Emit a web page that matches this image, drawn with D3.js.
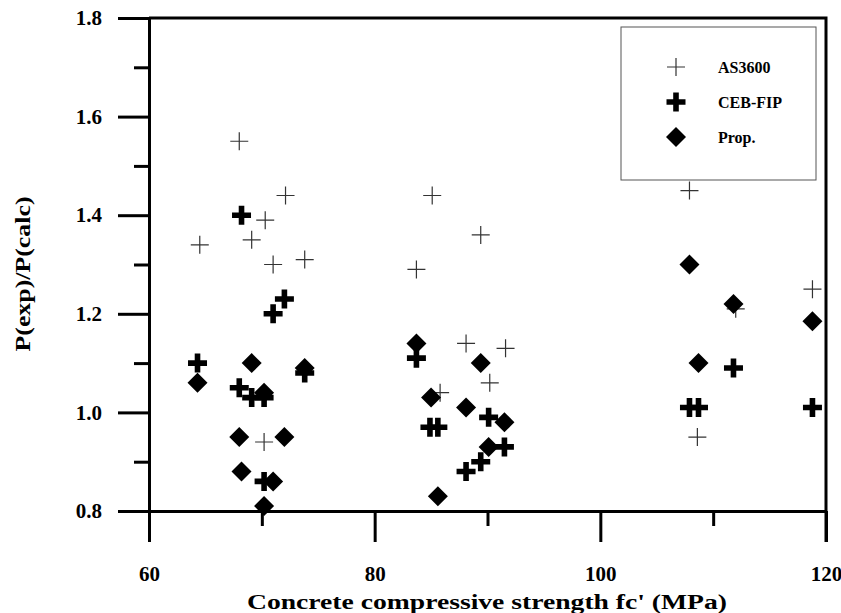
<!DOCTYPE html>
<html>
<head>
<meta charset="utf-8">
<script src="https://cdn.jsdelivr.net/npm/d3@7"></script>
<style>
  body { margin: 0; background: #fff; }
  text { font-family: "Liberation Serif", "Times New Roman", serif; font-weight: bold; }
</style>
</head>
<body>
<script>
// data: [fc' (MPa), P(exp)/P(calc)]
var as3600 = [
  [64.5, 1.34], [68.0, 1.55], [69.1, 1.35], [70.3, 1.39], [70.2, 0.94],
  [71.0, 1.30], [72.1, 1.44], [73.8, 1.31],
  [83.7, 1.29], [85.1, 1.44], [85.8, 1.04], [88.1, 1.14], [89.4, 1.36],
  [90.2, 1.06], [91.6, 1.13],
  [107.9, 1.45], [108.6, 0.95], [112.0, 1.21], [118.8, 1.25]
];
var cebfip = [
  [64.3, 1.10], [68.0, 1.05], [68.2, 1.40], [69.1, 1.03], [70.2, 1.03],
  [70.2, 0.86], [71.0, 1.20], [72.0, 1.23], [73.8, 1.08],
  [83.7, 1.11], [84.9, 0.97], [85.6, 0.97], [88.1, 0.88], [89.4, 0.90],
  [90.1, 0.99], [91.5, 0.93],
  [107.9, 1.01], [108.7, 1.01], [111.8, 1.09], [118.8, 1.01]
];
var prop = [
  [64.3, 1.06], [68.0, 0.95], [68.2, 0.88], [69.1, 1.10], [70.2, 1.04],
  [70.2, 0.81], [71.0, 0.86], [72.0, 0.95], [73.8, 1.09],
  [83.7, 1.14], [85.0, 1.03], [85.6, 0.83], [88.1, 1.01], [89.4, 1.10],
  [90.1, 0.93], [91.5, 0.98],
  [107.9, 1.30], [108.7, 1.10], [111.8, 1.22], [118.8, 1.185]
];
var xTicks = [60, 80, 100, 120];
var xMinor = [70, 90, 110];
var yTicks = [0.8, 1.0, 1.2, 1.4, 1.6, 1.8];
var yMinor = [0.9, 1.1, 1.3, 1.5, 1.7];
var legendNames = ["AS3600", "CEB-FIP", "Prop."];

var W = 841, H = 613;
var x = d3.scaleLinear().domain([60, 120]).range([149, 826]);
var y = d3.scaleLinear().domain([0.8, 1.8]).range([511, 18]);

var svg = d3.select("body").append("svg")
    .attr("width", W)
    .attr("height", H);

// marker shapes
function thinPlus(a) { return "M" + (-a) + ",0H" + a + "M0," + (-a) + "V" + a; }
function boldPlus(a, t) {
  return "M" + (-a) + "," + (-t) + "H" + (-t) + "V" + (-a) + "H" + t + "V" + (-t) +
    "H" + a + "V" + t + "H" + t + "V" + a + "H" + (-t) + "V" + t + "H" + (-a) + "Z";
}
function diamond(r) { return "M0," + (-r) + "L" + r + ",0L0," + r + "L" + (-r) + ",0Z"; }

var markers = [
  function(g) { g.append("path").attr("d", thinPlus(9)).attr("stroke", "#333").attr("stroke-width", 1.2).attr("fill", "none"); },
  function(g) { g.append("path").attr("d", boldPlus(9.5, 2.8)).attr("fill", "#000"); },
  function(g) { g.append("path").attr("d", diamond(10)).attr("fill", "#000"); }
];

// axes
var axisG = svg.append("g");
axisG.append("g")
    .attr("transform", "translate(149,0)")
    .call(d3.axisLeft(y).tickValues(yTicks).tickSize(31).tickSizeOuter(0).tickPadding(16).tickFormat(d3.format(".1f")));
axisG.append("g")
    .attr("transform", "translate(149,0)")
    .call(d3.axisLeft(y).tickValues(yMinor).tickSize(15).tickSizeOuter(0).tickFormat(""));
axisG.append("g")
    .attr("transform", "translate(0,511)")
    .call(d3.axisBottom(x).tickValues(xTicks).tickSize(31).tickSizeOuter(0).tickPadding(24));
axisG.append("g")
    .attr("transform", "translate(0,511)")
    .call(d3.axisBottom(x).tickValues(xMinor).tickSize(15).tickSizeOuter(0).tickFormat(""));
axisG.selectAll("g").attr("font-family", "'Liberation Serif', serif").attr("font-weight", "bold");
axisG.selectAll(".domain, .tick line").attr("stroke", "#000").attr("stroke-width", 3);
axisG.selectAll(".tick text").attr("font-size", 21).attr("fill", "#000")
    .attr("font-weight", "bold");

// top and right border
svg.append("path")
    .attr("d", "M" + x(60) + "," + y(1.8) + "H" + x(120) + "V" + (y(0.8) + 31))
    .attr("fill", "none").attr("stroke", "#000").attr("stroke-width", 3);

// points
[as3600, cebfip, prop].forEach(function(series, i) {
  svg.append("g").selectAll("g")
      .data(series)
    .enter().append("g")
      .attr("transform", function(d) { return "translate(" + x(d[0]) + "," + y(d[1]) + ")"; })
      .each(function() { markers[i](d3.select(this)); });
});

// legend
var leg = svg.append("g");
leg.append("rect")
    .attr("x", 621).attr("y", 27).attr("width", 195).attr("height", 153)
    .attr("fill", "#fff").attr("stroke", "#555").attr("stroke-width", 1);
legendNames.forEach(function(name, i) {
  var g = leg.append("g").attr("transform", "translate(676," + (67 + i * 35) + ")");
  markers[i](g);
  leg.append("text")
      .attr("x", 718).attr("y", 67 + i * 35)
      .attr("dy", "0.35em")
      .attr("font-size", 16)
      .text(name);
});

// axis titles
svg.append("text")
    .attr("x", 487).attr("y", 609)
    .attr("text-anchor", "middle")
    .attr("font-size", 20)
    .attr("textLength", 480)
    .attr("lengthAdjust", "spacingAndGlyphs")
    .text("Concrete compressive strength fc' (MPa)");
svg.append("text")
    .attr("transform", "translate(30,274) rotate(-90)")
    .attr("text-anchor", "middle")
    .attr("font-size", 21)
    .attr("textLength", 155)
    .attr("lengthAdjust", "spacingAndGlyphs")
    .text("P(exp)/P(calc)");
</script>
</body>
</html>
